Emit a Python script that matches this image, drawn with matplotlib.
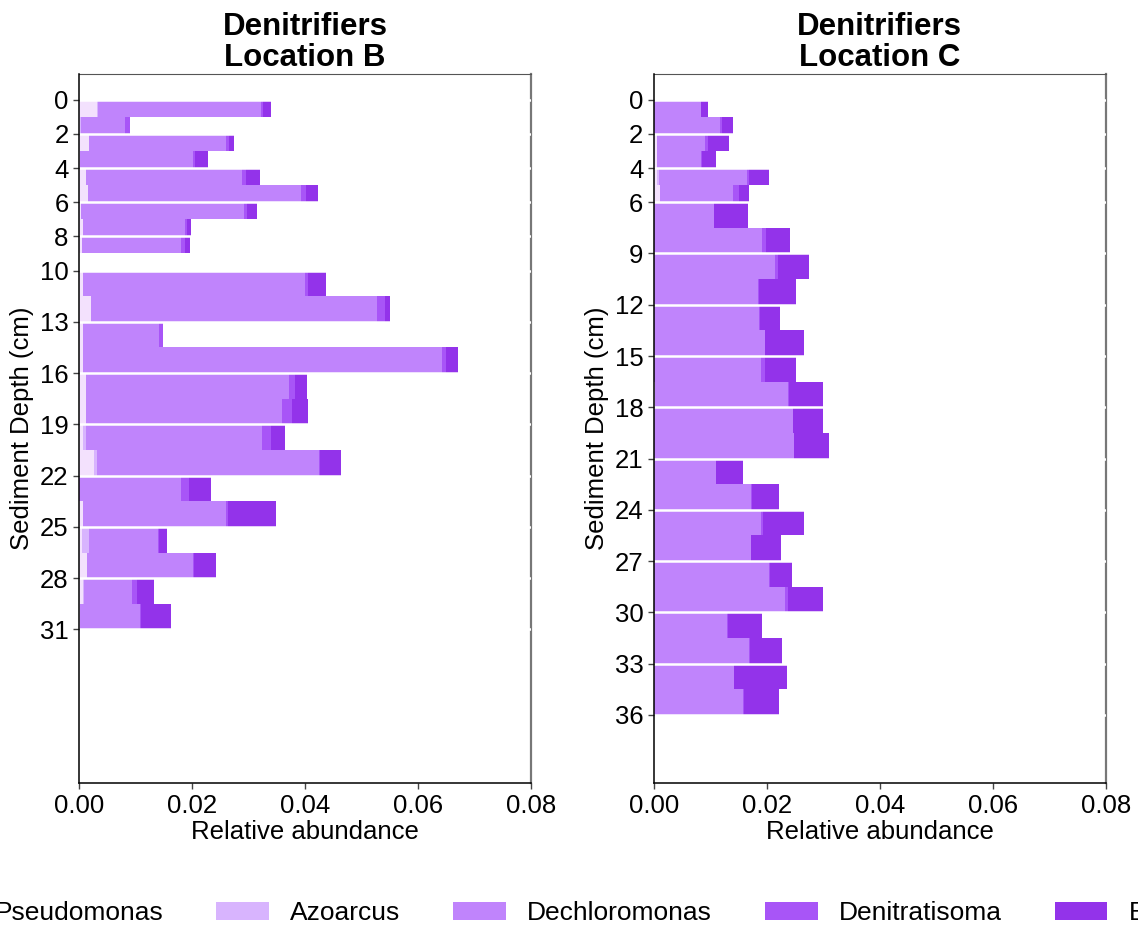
import numpy as np
import matplotlib
matplotlib.use("Agg")
import matplotlib.pyplot as plt
from matplotlib.patches import Patch

plt.rcParams["font.family"] = ["Liberation Sans", "DejaVu Sans"]

GENERA = ["Pseudomonas", "Azoarcus", "Dechloromonas", "Denitratisoma", "Bradyrhizobium"]
COLORS = ["#f3e1fd", "#d8b4fe", "#c084fc", "#a855f7", "#9333ea"]

# ---- Location B
b_depth = [0, 1, 2, 3, 4, 5, 6, 7, 8, 10, 11.5, 13, 14.5, 16, 17.5, 19, 20.5,
           22, 23.5, 25, 26.5, 28, 29.5]
b_thick = [1, 1, 1, 1, 1, 1, 1, 1, 1, 1.5, 1.5, 1.5, 1.5, 1.5, 1.5, 1.5, 1.5,
           1.5, 1.5, 1.5, 1.5, 1.5, 1.5]
b_pseudo = [.0031, .0002, .0018, .0002, .0012, .0016, .0004, .0007, .0005, .0007, .0021, .0007,
            .0007, .0012, .0012, .0007, .0027, 0, .0007, .0005, .0014, .0007, .0002]
b_azo = [.0003, .0002, 0, 0, 0, 0, 0, 0, 0, 0, 0, 0, 0, 0, 0, .0005, .0005, 0, 0, .0013, 0,
         .0002, 0]
b_dechl = [.0288, .0078, .0243, .0199, .0276, .0377, .0288, .0180, .0175, .0393, .0507, .0135,
           .0635, .0360, .0347, .0312, .0393, .0180, .0253, .0122, .0187, .0085, .0106]
b_denitr = [.0003, .0009, .0004, .0005, .0007, .0009, .0005, .0005, .0007, .0005, .0014, .0006,
            .0007, .0010, .0018, .0016, .0002, .0014, .0003, .0002, .0003, .0009, .0002]
b_brady = [.0015, 0, .0009, .0023, .0025, .0021, .0018, .0007, .0009, .0032, .0009, 0,
           .0021, .0022, .0028, .0024, .0037, .0039, .0085, .0013, .0038, .0030, .0052]
b_ticks = [0, 2, 4, 6, 8, 10, 13, 16, 19, 22, 25, 28, 31]

# ---- Location C
c_depth = [0, 1, 2, 3, 4, 5, 6, 7.5, 9, 10.5, 12, 13.5, 15, 16.5, 18, 19.5, 21, 22.5,
           24, 25.5, 27, 28.5, 30, 31.5, 33, 34.5]
c_thick = [1, 1, 1, 1, 1, 1] + [1.5] * 20
c_pseudo = [0, 0, .0005, .0005, .0005, .0011, 0, 0, 0, 0, 0, 0, 0, .0002, 0, 0, 0, 0,
            0, 0, 0, 0, 0, 0, 0, 0]
c_azo = [0, 0, 0, 0, .0004, 0, 0, 0, 0, 0, 0, 0, 0, 0, 0, 0, 0, 0,
         0, 0, 0, 0, 0, 0, 0, 0]
c_dechl = [.0083, .0117, .0086, .0079, .0156, .0129, .0106, .0192, .0215, .0185, .0186, .0197,
           .0190, .0236, .0247, .0248, .0110, .0172, .0190, .0172, .0204, .0232, .0130, .0169,
           .0142, .0158]
c_denitr = [0, .0004, .0005, .0002, .0004, .0011, 0, .0007, .0005, .0001, .0002, 0,
            .0007, .0002, 0, 0, 0, .0002, .0003, 0, .0002, .0006, .0001, .0001, 0, .0002]
c_brady = [.0013, .0019, .0037, .0024, .0035, .0018, .0061, .0042, .0055, .0066, .0036, .0069,
           .0055, .0060, .0053, .0062, .0048, .0048, .0073, .0053, .0039, .0062, .0061, .0057,
           .0094, .0062]
c_ticks = [0, 2, 4, 6, 9, 12, 15, 18, 21, 24, 27, 30, 33, 36]

W, H = 1138, 931
fig = plt.figure(figsize=(W / 100, H / 100), dpi=100)
ax_b = fig.add_axes([79 / W, (H - 783.3) / H, 452 / W, 709.3 / H])
ax_c = fig.add_axes([653.7 / W, (H - 783.3) / H, 452 / W, 709.3 / H])


def panel(ax, title, depth, thick, series, ticks):
    left = np.zeros(len(depth))
    for vals, col in zip(series, COLORS):
        vals = np.asarray(vals)
        ax.barh(depth, vals, height=thick, left=left, align="edge",
                color=col, edgecolor="none", linewidth=0)
        left = left + vals
    ax.set_xlim(0, 0.08)
    ax.set_ylim(40, -1.5)
    ax.set_xticks([0, 0.02, 0.04, 0.06, 0.08])
    ax.set_xticklabels(["0.00", "0.02", "0.04", "0.06", "0.08"])
    ax.set_yticks(ticks)
    ax.tick_params(labelsize=18.5, length=4, width=1, color="#444444", direction="out")
    ax.set_xlabel("Relative abundance", fontsize=18.5, labelpad=2)
    ax.set_ylabel("Sediment Depth (cm)", fontsize=18.5, labelpad=4)
    ax.set_title(title, fontsize=22.5, fontweight="bold", pad=6, linespacing=1.05)
    ax.grid(axis="y", color="white", linewidth=1.8)
    ax.grid(axis="x", visible=False)
    ax.set_axisbelow(False)
    for s in ("left", "bottom"):
        ax.spines[s].set_color("black")
        ax.spines[s].set_zorder(3)
        ax.spines[s].set_linewidth(1.1)
    ax.spines["top"].set_color("#555555")
    ax.spines["right"].set_color("#777777")
    ax.spines["right"].set_linewidth(1.6)
    ax.spines["right"].set_zorder(2)


panel(ax_b, "Denitrifiers\nLocation B", b_depth, b_thick,
      [b_pseudo, b_azo, b_dechl, b_denitr, b_brady], b_ticks)
panel(ax_c, "Denitrifiers\nLocation C", c_depth, c_thick,
      [c_pseudo, c_azo, c_dechl, c_denitr, c_brady], c_ticks)

handles = [Patch(facecolor=c, edgecolor="none", label=g) for g, c in zip(GENERA, COLORS)]
fig.legend(handles=handles, loc="center", bbox_to_anchor=(0.5417, 0.019), ncol=5,
           frameon=False, fontsize=19, handlelength=2.0, handleheight=0.7,
           handletextpad=0.8, columnspacing=2.0)

fig.savefig("out.png", dpi=100)
